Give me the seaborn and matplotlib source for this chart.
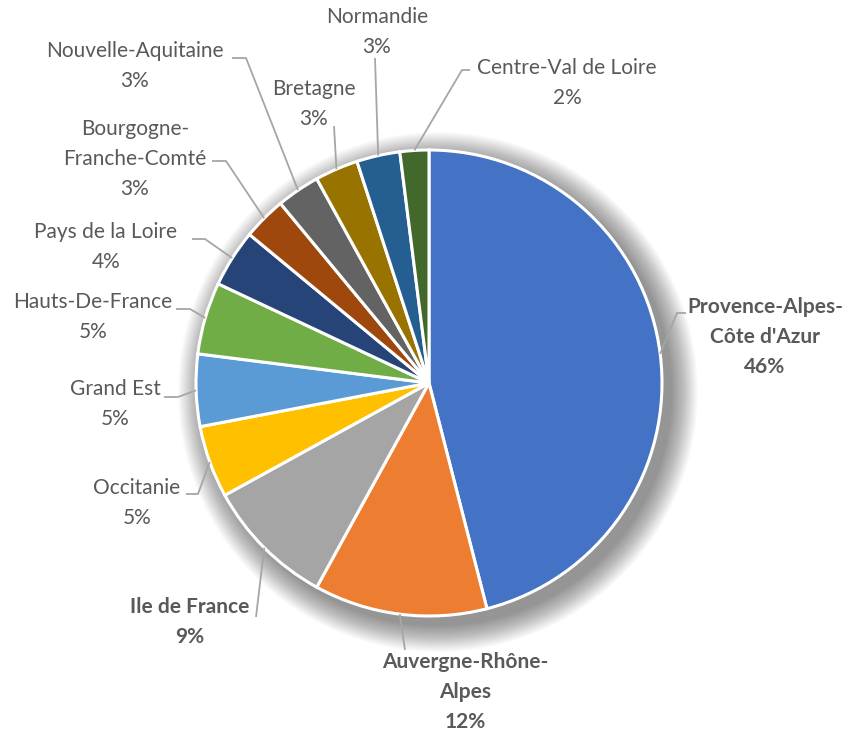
import matplotlib.pyplot as plt
import matplotlib.patches as mpatches
import numpy as np
import seaborn as sns

# ============================================================
# DATA
# ============================================================

regions = ["Provence-Alpes-\nCôte d'Azur", "Auvergne-Rhône-\nAlpes", "Ile de France",
           "Occitanie", "Grand Est", "Hauts-De-France", "Pays de la Loire",
           "Bourgogne-\nFranche-Comté", "Nouvelle-Aquitaine", "Bretagne",
           "Normandie", "Centre-Val de Loire"]
parts = [46, 12, 9, 5, 5, 5, 4, 3, 3, 3, 3, 2]
bold_labels = ["Provence-Alpes-\nCôte d'Azur", "Auvergne-Rhône-\nAlpes", "Ile de France"]

colors = ["#4472C4", "#ED7D31", "#A5A5A5", "#FFC000", "#5B9BD5", "#70AD47",
          "#264478", "#9E480E", "#636363", "#997300", "#255E91", "#43682B"]

# label layout (pixel coords, y from top): text centre and elbow of leader line
label_pos = {
    "Provence-Alpes-\nCôte d'Azur": ((765, 337), (686, 313), (677, 313)),
    "Auvergne-Rhône-\nAlpes": ((465, 692), (405, 650), (405, 650)),
    "Ile de France": ((190, 622), (256, 617), (256, 617)),
    "Occitanie": ((137, 503), (186, 494), (198, 494)),
    "Grand Est": ((115, 404), (164, 397), (178, 397)),
    "Hauts-De-France": ((93, 317), (176, 309), (190, 309)),
    "Pays de la Loire": ((106, 247), (192, 239), (205, 239)),
    "Bourgogne-\nFranche-Comté": ((135, 159), (212, 161), (226, 161)),
    "Nouvelle-Aquitaine": ((135, 66), (232, 58), (246, 58)),
    "Bretagne": ((314, 104), (334, 126), (334, 126)),
    "Normandie": ((377, 32), (375, 58), (375, 58)),
    "Centre-Val de Loire": ((567, 83), (470, 70), (462, 70)),
}

W, H = 853, 735
cx, cy, R = 429, 383, 233

sns.set_theme(style="white")
plt.rcParams['font.family'] = ['Lato', 'DejaVu Sans']

fig = plt.figure(figsize=(W / 100, H / 100), dpi=100)
ax = fig.add_axes([0, 0, 1, 1])

# soft drop shadow
for k in range(30, 0, -1):
    ax.add_patch(mpatches.Circle((cx + 9, H - cy - 9), R + k * 0.9,
                                 color='black', alpha=0.014, lw=0, zorder=0))

wedges, _ = ax.pie(parts, colors=colors, startangle=90, counterclock=False,
                   center=(cx, H - cy), radius=R, frame=True,
                   wedgeprops=dict(edgecolor='white', linewidth=2.2))
ax.set_xlim(0, W)
ax.set_ylim(0, H)
ax.set_aspect('equal')
ax.axis('off')

for w, name, val in zip(wedges, regions, parts):
    mid = np.deg2rad((w.theta1 + w.theta2) / 2)
    px, py = cx + R * np.cos(mid), (H - cy) + R * np.sin(mid)
    (tx, ty), (ax1, ay1), (ax2, ay2) = label_pos[name]
    ax.plot([ax1, ax2, px], [H - ay1, H - ay2, py], color='#A6A6A6', lw=1.3,
            zorder=1, solid_capstyle='butt')
    bold = name in bold_labels
    ax.text(tx, H - ty, f"{name}\n{val}%", ha='center', va='center',
            fontsize=15, color='#595959', linespacing=1.6,
            fontweight='bold' if bold else 'normal')

plt.savefig("out.png", dpi=100, facecolor='white')
